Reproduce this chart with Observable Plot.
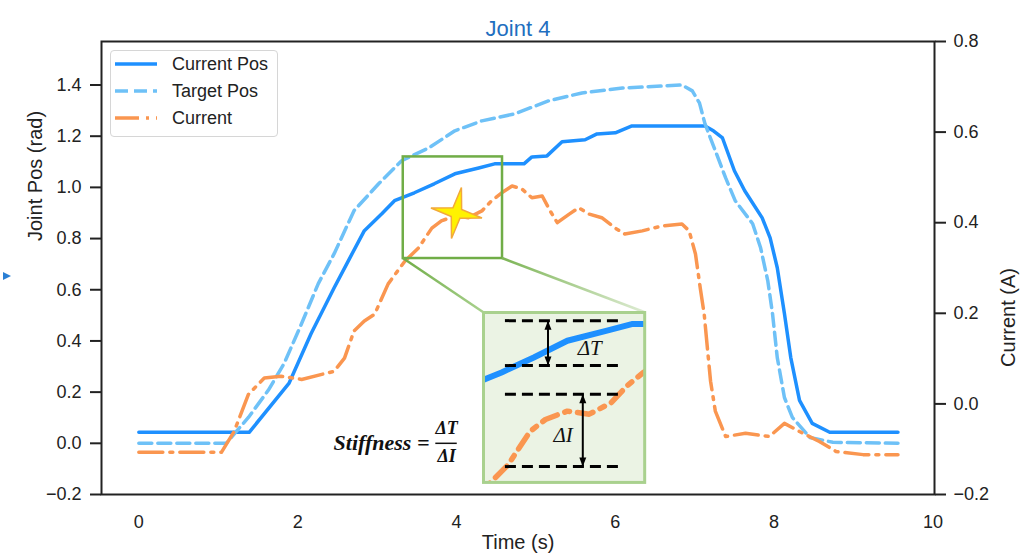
<!DOCTYPE html>
<html><head><meta charset="utf-8">
<script src="https://cdn.jsdelivr.net/npm/d3@7"></script>
<script src="https://cdn.jsdelivr.net/npm/@observablehq/plot@0.6"></script>
<style>
html,body{margin:0;padding:0;background:#fff;}
#wrap{position:relative;width:1023px;height:560px;overflow:hidden;}
#wrap > *{position:absolute;left:0;top:0;}
</style></head><body><div id="wrap"></div>
<script>
// ---- data ----
const posT = [0,1.39,1.89,2.17,2.46,2.64,2.84,3.06,3.22,3.47,3.72,3.98,4.28,4.48,4.85,4.95,5.14,5.33,5.62,5.77,6.00,6.21,7.13,7.24,7.35,7.50,7.63,7.85,7.95,8.04,8.13,8.21,8.32,8.48,8.70,9.56];
const posV = [0.043,0.043,0.234,0.429,0.608,0.714,0.831,0.897,0.948,0.979,1.014,1.053,1.076,1.092,1.092,1.119,1.123,1.178,1.186,1.209,1.213,1.240,1.240,1.220,1.193,1.065,0.987,0.881,0.803,0.686,0.507,0.335,0.168,0.078,0.043,0.043];
const tgtT = [0,1.10,1.38,1.63,1.83,2.05,2.26,2.46,2.71,3.02,3.31,3.65,3.98,4.32,4.73,5.16,5.58,6.09,6.84,6.97,7.06,7.13,7.26,7.39,7.51,7.73,7.83,7.92,7.98,8.04,8.13,8.23,8.45,8.74,9.56];
const tgtV = [0,0,0.101,0.207,0.312,0.468,0.624,0.741,0.909,1.014,1.104,1.154,1.221,1.260,1.287,1.338,1.369,1.388,1.400,1.377,1.330,1.248,1.143,1.037,0.948,0.858,0.764,0.636,0.507,0.335,0.179,0.101,0.023,0.004,0];
const curT = [0,1.04,1.20,1.38,1.58,1.79,2.05,2.46,2.59,2.71,2.84,2.97,3.14,3.35,3.52,3.69,3.81,3.98,4.15,4.32,4.44,4.57,4.70,4.82,4.95,5.08,5.18,5.27,5.42,5.54,5.67,5.83,6.00,6.12,6.34,6.59,6.84,6.93,7.01,7.07,7.12,7.16,7.20,7.26,7.39,7.64,7.94,8.13,8.32,8.57,8.78,9.12,9.56];
const curA = [-0.107,-0.107,-0.061,0.021,0.057,0.061,0.054,0.072,0.101,0.161,0.183,0.198,0.265,0.315,0.344,0.388,0.404,0.415,0.411,0.426,0.448,0.466,0.481,0.475,0.455,0.459,0.426,0.400,0.419,0.433,0.419,0.411,0.388,0.375,0.382,0.393,0.397,0.382,0.331,0.256,0.198,0.123,0.050,-0.016,-0.072,-0.065,-0.072,-0.043,-0.061,-0.083,-0.105,-0.112,-0.112];

const xTicks = [0,2,4,6,8,10];
const leftTicks = [-0.2,0,0.2,0.4,0.6,0.8,1.0,1.2,1.4];
const rightTicks = [-0.2,0,0.2,0.4,0.6,0.8];
const seriesNames = ["Current Pos","Target Pos","Current"];

// zoom window (data coords) and inset placement (main-chart data coords)
const zoomT = [3.33, 4.58];
const zoomV = [0.722, 1.119];
const insetT = [4.34, 6.37];
const insetV = [-0.153, 0.511];
// inset annotations (inset data coords)
const levelsT = [1.100, 0.995];
const levelsI = [0.928, 0.759];
const levelSpan = [3.50, 4.39];
const arrowT = [3.83, 4.10];

// ---- scales setup ----
const leftDomain = [-0.2, 1.57], rightDomain = [-0.2, 0.8];
const k = (leftDomain[1]-leftDomain[0])/(rightDomain[1]-rightDomain[0]);
const toLeft = a => leftDomain[0] + (a - rightDomain[0])*k;
const fromLeft = v => rightDomain[0] + (v - leftDomain[0])/k;

const colPos = "#1E90FF", colTgt = "#6EC1F7", colCur = "#FA9650";
const pos = posT.map((t,i)=>({t, v:posV[i]}));
const tgt = tgtT.map((t,i)=>({t, v:tgtV[i]}));
const cur = curT.map((t,i)=>({t, v:toLeft(curA[i])}));

const star4 = {draw(ctx, size){
  const R = Math.sqrt(size/Math.PI), r = R*0.24, rot = 11*Math.PI/180;
  for (let i=0;i<8;i++){
    const a = -Math.PI/2 + rot + i*Math.PI/4, rr = i%2 ? r : R;
    const x = rr*Math.cos(a), y = rr*Math.sin(a);
    if (i) ctx.lineTo(x,y); else ctx.moveTo(x,y);
  }
  ctx.closePath();
}};
// filled arrowheads, tip at the anchor point
const headUp = {draw(ctx, size){
  const s = Math.sqrt(size/Math.PI);
  ctx.moveTo(0,0); ctx.lineTo(s*0.7, s*1.8); ctx.lineTo(-s*0.7, s*1.8); ctx.closePath();
}};
const headDown = {draw(ctx, size){
  const s = Math.sqrt(size/Math.PI);
  ctx.moveTo(0,0); ctx.lineTo(s*0.7, -s*1.8); ctx.lineTo(-s*0.7, -s*1.8); ctx.closePath();
}};

const sans = "Liberation Sans, Arial, sans-serif";
const serif = "Liberation Serif, Times New Roman, serif";
const fmt1 = d3.format(".1f");
const clean = x => Math.abs(x) < 1e-9 ? 0 : x;

const formula = {t:3.66, v:0, numV:0.058, denV:-0.052, ft:3.875, b1:3.74, b2:4.01};
const starPos = {t:4.0, v:0.90};

const chart = Plot.plot({
  width:1023, height:560,
  marginLeft:101, marginRight:89, marginTop:41, marginBottom:66,
  x:{domain:[-0.47,10.02]},
  y:{domain:leftDomain},
  style:{fontFamily:sans, color:"#222", background:"transparent", overflow:"visible"},
  marks:[
    Plot.axisX(xTicks, {tickSize:0, tickPadding:21, fontSize:18, label:null, tickFormat:d3.format("d")}),
    Plot.axisY(leftTicks, {anchor:"left", tickSize:11, tickPadding:9, fontSize:18, strokeWidth:2, label:null, tickFormat:v=>fmt1(clean(v))}),
    Plot.axisY(rightTicks.map(toLeft), {anchor:"right", tickSize:11, tickPadding:8, fontSize:18, strokeWidth:2, label:null,
      tickFormat:v=>fmt1(clean(Math.round(fromLeft(v)*10)/10))}),
    Plot.line(pos, {x:"t", y:"v", stroke:colPos, strokeWidth:3.5, strokeLinejoin:"round"}),
    Plot.line(tgt, {x:"t", y:"v", stroke:colTgt, strokeWidth:3.5, strokeDasharray:"13,6", strokeLinejoin:"round"}),
    Plot.line(cur, {x:"t", y:"v", stroke:colCur, strokeWidth:3.5, strokeDasharray:"24,7,3,7", strokeLinejoin:"round"}),
    Plot.rect([{x1:zoomT[0], x2:zoomT[1], y1:zoomV[0], y2:zoomV[1]}], {x1:"x1", x2:"x2", y1:"y1", y2:"y2", fill:"none", stroke:"#70AD47", strokeWidth:2.5}),
    Plot.dot([starPos], {x:"t", y:"v", r:26, symbol:star4, fill:"#FFF200", stroke:"#F2A93B", strokeWidth:1.5}),
    Plot.text([formula], {x:"t", y:"v", text:()=>"Stiffness =", textAnchor:"end", fontFamily:serif, fontWeight:"bold", fontStyle:"italic", fontSize:22, fill:"#111"}),
    Plot.text([formula], {x:"ft", y:"numV", text:()=>"ΔT", fontFamily:serif, fontWeight:"bold", fontStyle:"italic", fontSize:18, fill:"#111"}),
    Plot.text([formula], {x:"ft", y:"denV", text:()=>"ΔI", fontFamily:serif, fontWeight:"bold", fontStyle:"italic", fontSize:18, fill:"#111"}),
    Plot.ruleY([formula], {x1:"b1", x2:"b2", y:"v", stroke:"#111", strokeWidth:1.5}),
    Plot.frame({stroke:"#222", strokeWidth:2}),
    Plot.text(["Joint 4"], {frameAnchor:"top", dy:-21, fontSize:22, fill:"#1f6fc0", fontFamily:sans}),
    Plot.text(["Joint Pos (rad)"], {frameAnchor:"left", dx:-66, dy:-27, rotate:-90, fontSize:20, fill:"#222"}),
    Plot.text(["Current (A)"], {frameAnchor:"right", dx:74, dy:0, rotate:-90, fontSize:20, fill:"#222"}),
    Plot.text(["Time (s)"], {frameAnchor:"bottom", dy:54, fontSize:20, fill:"#222"})
  ]
});

const wrap = document.getElementById("wrap");
wrap.appendChild(chart);

const sx = chart.scale("x"), sy = chart.scale("y");
const bx1 = sx.apply(zoomT[0]), bx2 = sx.apply(zoomT[1]), by = sy.apply(zoomV[0]);
const ix1 = sx.apply(insetT[0]), ix2 = sx.apply(insetT[1]);
const iy1 = sy.apply(insetV[1]), iy2 = sy.apply(insetV[0]);

// connectors (+ small blue arrow tip at the left edge of the reference)
const ns = "http://www.w3.org/2000/svg";
const conn = document.createElementNS(ns, "svg");
conn.setAttribute("width", 1023); conn.setAttribute("height", 560);
conn.innerHTML = `<defs>
<linearGradient id="gL" gradientUnits="userSpaceOnUse" x1="${bx1}" y1="${by}" x2="${ix1}" y2="${iy1}"><stop offset="0" stop-color="#70AD47"/><stop offset="1" stop-color="#A9D18E"/></linearGradient>
<linearGradient id="gR" gradientUnits="userSpaceOnUse" x1="${bx2}" y1="${by}" x2="${ix2}" y2="${iy1}"><stop offset="0" stop-color="#7DB556"/><stop offset="1" stop-color="#DDEBD2"/></linearGradient></defs>
<line x1="${bx1}" y1="${by}" x2="${ix1}" y2="${iy1}" stroke="url(#gL)" stroke-width="2.5"/>
<line x1="${bx2}" y1="${by}" x2="${ix2}" y2="${iy1}" stroke="url(#gR)" stroke-width="2.5"/>
<path d="M3,272 L11,276 L3,280 Z" fill="#2a7fd4"/>`;
wrap.appendChild(conn);

// inset
const arrows = [{x:arrowT[0], a:levelsT[0], b:levelsT[1]}, {x:arrowT[1], a:levelsI[0], b:levelsI[1]}];
const inset = Plot.plot({
  width: ix2-ix1, height: iy2-iy1, margin:0,
  x:{domain:zoomT, axis:null}, y:{domain:zoomV, axis:null},
  style:{background:"transparent", overflow:"visible"},
  marks:[
    Plot.frame({fill:"#EBF3E4"}),
    Plot.line(pos, {x:"t", y:"v", stroke:colPos, strokeWidth:6, clip:true, strokeLinejoin:"round"}),
    Plot.line(cur, {x:"t", y:"v", stroke:colCur, strokeWidth:5.5, strokeDasharray:"16,8,5,8", clip:true, strokeLinejoin:"round"}),
    Plot.ruleY(levelsT.concat(levelsI), {x1:levelSpan[0], x2:levelSpan[1], stroke:"#000", strokeWidth:3, strokeDasharray:"11,6"}),
    Plot.link(arrows, {x1:"x", x2:"x", y1:"a", y2:"b", stroke:"#000", strokeWidth:2, insetTop:7, insetBottom:7}),
    Plot.dot(arrows, {x:"x", y:"a", symbol:headUp, r:5, fill:"#000", stroke:"none"}),
    Plot.dot(arrows, {x:"x", y:"b", symbol:headDown, r:5, fill:"#000", stroke:"none"}),
    Plot.text([{t:4.06, v:1.035, s:"ΔT"}, {t:3.873, v:0.832, s:"ΔI"}], {x:"t", y:"v", text:"s", textAnchor:"start", fontFamily:serif, fontStyle:"italic", fontSize:21, fill:"#111"}),
    Plot.frame({stroke:"#A9D18E", strokeWidth:3})
  ]
});
inset.style.left = ix1 + "px"; inset.style.top = iy1 + "px";
wrap.appendChild(inset);

// legend
const leg = document.createElement("div");
leg.style.cssText = "left:110px;top:50px;width:168px;height:87px;border:1px solid #d6d6d6;border-radius:4px;background:rgba(255,255,255,0.85);box-sizing:border-box;";
const styles = [{c:colPos, d:""}, {c:colTgt, d:"13,6"}, {c:colCur, d:"24,7,3,7"}];
leg.innerHTML = `<svg width="168" height="87" style="position:absolute;left:-1px;top:-1px;font-family:${sans}">` +
  seriesNames.map((n,i)=>`<line x1="5" x2="47" y1="${14+27*i}" y2="${14+27*i}" stroke="${styles[i].c}" stroke-width="3.5" ${styles[i].d?`stroke-dasharray="${styles[i].d}"`:""}/>
  <text x="62" y="${14+27*i}" dy="0.35em" font-size="18" fill="#222">${n}</text>`).join("") + `</svg>`;
wrap.appendChild(leg);
</script></body></html>
